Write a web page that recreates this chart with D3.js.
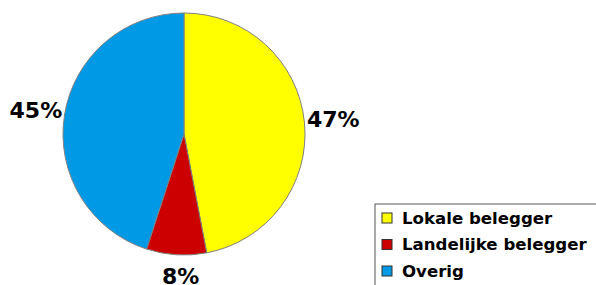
<!DOCTYPE html>
<html>
<head>
<meta charset="utf-8">
<script src="https://cdn.jsdelivr.net/npm/d3@7"></script>
<style>
  body{margin:0;background:#fff;}
  svg{display:block;}
</style>
</head>
<body>
<div id="chart"></div>
<script>
var categories = ["Lokale belegger","Landelijke belegger","Overig"];
var values     = [47,8,45];
var labels     = ["47%","8%","45%"];
var colors     = ["#ffff00","#cc0000","#0099e6"];

var width = 596, height = 285;
var cx = 184, cy = 134, radius = 121;

var svg = d3.select("#chart")
  .append("svg")
    .attr("width",width)
    .attr("height",height);

var pie = d3.pie().sort(null).value(function(d){return d;});
var arc = d3.arc().innerRadius(0).outerRadius(radius);
var arcs = pie(values);

var g = svg.append("g")
  .attr("transform","translate("+cx+","+cy+")");

g.selectAll("path")
  .data(arcs)
  .enter()
  .append("path")
  .attr("d",arc)
  .attr("fill",function(d,i){return colors[i];})
  .attr("stroke","#808080")
  .attr("stroke-width",1);

// percent labels outside the slices (bottom one pulled up, like the original)
var labelArc = d3.arc().innerRadius(radius+29).outerRadius(radius+29);
g.selectAll("text.pct")
  .data(arcs)
  .enter()
  .append("text")
  .attr("class","pct")
  .attr("x",function(d){
    var c = labelArc.centroid(d);
    return c[0] + (c[1] > 100 ? 6 : 0);
  })
  .attr("y",function(d){
    var c = labelArc.centroid(d);
    return Math.min(c[1], height - cy - 9);
  })
  .attr("text-anchor","middle")
  .attr("dominant-baseline","central")
  .style("font-family","DejaVu Sans, Arial, sans-serif")
  .style("font-weight","bold")
  .style("font-size","22px")
  .text(function(d,i){return labels[i];});

// legend
var legend = svg.append("g")
  .attr("transform","translate(375,204)");

legend.append("rect")
  .attr("x",0).attr("y",0)
  .attr("width",240).attr("height",100)
  .attr("fill","#fff")
  .attr("stroke","#555")
  .attr("stroke-width",1);

var rows = legend.selectAll("g.row")
  .data(categories)
  .enter()
  .append("g")
  .attr("class","row")
  .attr("transform",function(d,i){return "translate(7,"+(14+i*26.5)+")";});

rows.append("rect")
  .attr("x",0).attr("y",-5)
  .attr("width",10).attr("height",10)
  .attr("fill",function(d,i){return colors[i];})
  .attr("stroke","#333")
  .attr("stroke-width",1);

rows.append("text")
  .attr("x",20)
  .attr("y",0)
  .attr("dominant-baseline","central")
  .style("font-family","DejaVu Sans, Arial, sans-serif")
  .style("font-weight","bold")
  .style("font-size","16.6px")
  .text(function(d){return d;});
</script>
</body>
</html>
